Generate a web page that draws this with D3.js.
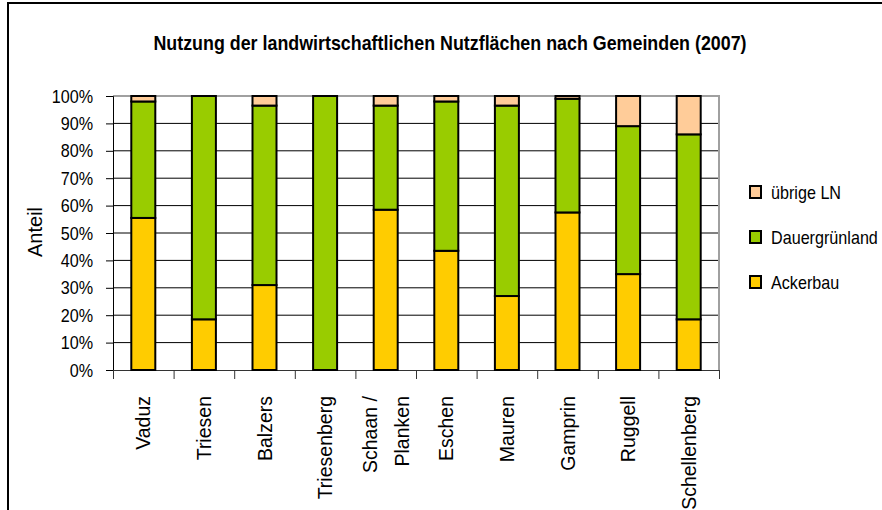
<!DOCTYPE html>
<html>
<head>
<meta charset="utf-8">
<script src="https://cdn.jsdelivr.net/npm/d3@7"></script>
<style>
	body { margin: 0; background: #fff; }
	svg { display: block; }
</style>
</head>
<body>
<svg id="chart" width="882" height="510"></svg>
<script>
const MUNICIPALITIES = ['Vaduz', 'Triesen', 'Balzers', 'Triesenberg', 'Schaan / Planken', 'Eschen', 'Mauren', 'Gamprin', 'Ruggell', 'Schellenberg'];
const ACKERBAU = [55.5, 18.5, 31, 0, 58.5, 43.5, 27, 57.5, 35, 18.5];
const DAUERGRUENLAND = [42.5, 81.5, 65.5, 100, 38, 54.5, 69.5, 41.5, 54, 67.5];
const UEBRIGE = [2, 0, 3.5, 0, 3.5, 2, 3.5, 1, 11, 14];
const SERIES = ['Ackerbau', 'Dauergrünland', 'übrige LN'];
const COLORS = ['#FFCC00', '#99CC00', '#FFCC99'];
const Y_TICKS = [0, 10, 20, 30, 40, 50, 60, 70, 80, 90, 100];

const FONT = '"Liberation Sans", Arial, sans-serif';
const SQUEEZE = 0.85; // horizontal text in the original looks condensed

const plot = { left: 113, right: 719, top: 96, bottom: 370 };

const svg = d3.select('#chart');

// squeeze horizontal text sideways, keeps the anchor where it was
function narrow(sel) {
	sel.each(function () {
		const w = this.getComputedTextLength();
		d3.select(this)
			.attr('textLength', w * SQUEEZE)
			.attr('lengthAdjust', 'spacingAndGlyphs');
	});
}

// outer frame (only top and left edge visible)
svg.append('path')
	.attr('d', 'M8,510 L8,3 L882,3')
	.attr('fill', 'none')
	.attr('stroke', '#000')
	.attr('stroke-width', 2);

// title
svg.append('text')
	.attr('x', 450)
	.attr('y', 50)
	.attr('text-anchor', 'middle')
	.style('font-family', FONT)
	.style('font-weight', 'bold')
	.style('font-size', '21px')
	.text('Nutzung der landwirtschaftlichen Nutzflächen nach Gemeinden (2007)')
	.call(narrow);

/* scales */
const x = d3.scaleBand()
	.domain(MUNICIPALITIES)
	.range([plot.left, plot.right]);
const xEdges = d3.scaleLinear()
	.domain([0, MUNICIPALITIES.length])
	.range([plot.left, plot.right]);
const y = d3.scaleLinear()
	.domain([0, 100])
	.range([plot.bottom, plot.top]);

/* gridlines */
svg.append('g')
	.selectAll('line')
	.data(Y_TICKS.filter(t => t > 0 && t < 100))
	.enter().append('line')
		.attr('x1', plot.left)
		.attr('x2', plot.right)
		.attr('y1', d => y(d))
		.attr('y2', d => y(d))
		.attr('stroke', '#000')
		.attr('stroke-width', 1);

// plot border top + right (grey)
svg.append('path')
	.attr('d', `M${plot.left},${plot.top} L${plot.right},${plot.top} L${plot.right},${plot.bottom}`)
	.attr('fill', 'none')
	.attr('stroke', '#a0a0a0')
	.attr('stroke-width', 2);

/* y axis */
const yAxis = svg.append('g')
	.attr('transform', `translate(${plot.left},0)`)
	.call(d3.axisLeft(y).tickValues(Y_TICKS).tickSize(7).tickPadding(13).tickFormat(d => d + '%'));
yAxis.select('.domain').attr('stroke', '#000');
yAxis.selectAll('.tick line').attr('stroke', '#000');
yAxis.selectAll('text')
	.style('font-family', FONT)
	.style('font-size', '19px')
	.attr('fill', '#000')
	.call(narrow);

/* x axis (ticks at category boundaries) */
const xAxis = svg.append('g')
	.attr('transform', `translate(0,${plot.bottom})`)
	.call(d3.axisBottom(xEdges).ticks(MUNICIPALITIES.length).tickSize(9).tickFormat(''));
xAxis.select('.domain').attr('stroke', '#333');
xAxis.selectAll('.tick line').attr('stroke', '#333');

/* stacked bars */
const rows = MUNICIPALITIES.map((m, i) => ({
	name: m,
	'Ackerbau': ACKERBAU[i],
	'Dauergrünland': DAUERGRUENLAND[i],
	'übrige LN': UEBRIGE[i]
}));
const stacked = d3.stack().keys(SERIES)(rows);
const BAR_W = 24;

svg.append('g')
	.selectAll('g')
	.data(stacked)
	.enter().append('g')
		.attr('fill', (d, i) => COLORS[i])
	.selectAll('rect')
	.data(d => d.filter(s => s[1] - s[0] > 0))
	.enter().append('rect')
		.attr('x', d => x(d.data.name) + x.bandwidth() / 2 - BAR_W / 2)
		.attr('y', d => y(d[1]))
		.attr('width', BAR_W)
		.attr('height', d => y(d[0]) - y(d[1]))
		.attr('stroke', '#000')
		.attr('stroke-width', 2);

/* category labels, rotated */
svg.append('g')
	.selectAll('text')
	.data(MUNICIPALITIES)
	.enter().append('text')
		.attr('transform', d => `translate(${x(d) + x.bandwidth() / 2 + 7},396) rotate(-90)`)
		.attr('text-anchor', 'end')
		.style('font-family', FONT)
		.style('font-size', '19.5px')
		.each(function (d) {
			const lines = d === 'Schaan / Planken' ? ['Schaan /', 'Planken'] : [d];
			const t = d3.select(this);
			lines.forEach((l, i) => {
				t.append('tspan')
					.attr('x', 0)
					.attr('y', (i - (lines.length - 1) / 2) * 32)
					.text(l);
			});
		});

// y title
svg.append('text')
	.attr('transform', 'translate(42,232) rotate(-90)')
	.attr('text-anchor', 'middle')
	.style('font-family', FONT)
	.style('font-size', '20px')
	.text('Anteil');

/* legend */
const legendItems = [2, 1, 0];
const legend = svg.append('g')
	.selectAll('g')
	.data(legendItems)
	.enter().append('g')
		.attr('transform', (d, i) => `translate(750,${192 + i * 45})`);
legend.append('rect')
	.attr('x', 0)
	.attr('y', -6)
	.attr('width', 11)
	.attr('height', 12)
	.attr('fill', d => COLORS[d])
	.attr('stroke', '#000')
	.attr('stroke-width', 2);
legend.append('text')
	.attr('x', 21)
	.attr('y', 7)
	.style('font-family', FONT)
	.style('font-size', '19px')
	.text(d => SERIES[d])
	.call(narrow);
</script>
</body>
</html>
